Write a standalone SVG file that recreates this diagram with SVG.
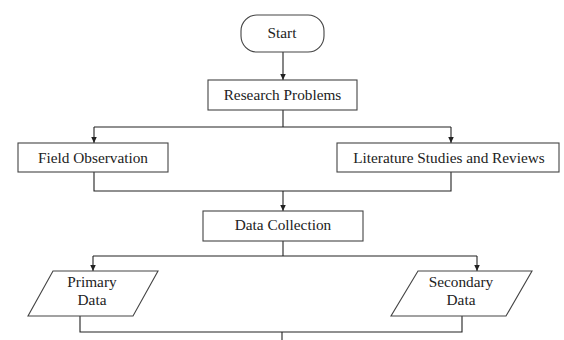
<svg xmlns="http://www.w3.org/2000/svg" width="564" height="340" viewBox="0 0 564 340">
<style>
.box{fill:#fff;stroke:#444;stroke-width:1.1}
.ln{fill:none;stroke:#222;stroke-width:1.1}
text{font-family:"Liberation Serif","Times New Roman",serif;font-size:15.3px;fill:#222;text-anchor:middle}
</style>
<defs>
<marker id="ah" markerUnits="userSpaceOnUse" markerWidth="7" markerHeight="7" refX="6.5" refY="3.5" orient="auto">
<path d="M0,0.5 L6.5,3.5 L0,6.5 z" fill="#222"/>
</marker>
</defs>
<rect width="564" height="340" fill="#fff"/>
<g id="connectors">
<path class="ln" d="M283,52 V80" marker-end="url(#ah)"/>
<path class="ln" d="M283,110 V127"/>
<path class="ln" d="M94,127 H451"/>
<path class="ln" d="M94,127 V143" marker-end="url(#ah)"/>
<path class="ln" d="M451,127 V143" marker-end="url(#ah)"/>
<path class="ln" d="M94,172 V191 H451 V172"/>
<path class="ln" d="M283,191 V211" marker-end="url(#ah)"/>
<path class="ln" d="M283,241 V256"/>
<path class="ln" d="M93,256 H477"/>
<path class="ln" d="M93,256 V271" marker-end="url(#ah)"/>
<path class="ln" d="M477,256 V271" marker-end="url(#ah)"/>
<path class="ln" d="M80,316 V332 H462 V316"/>
<path class="ln" d="M282,332 V340"/>
</g>
<g id="start" font-family="Liberation Serif, serif">
<rect class="box" x="241" y="15" width="83" height="37" rx="16"/>
<text x="282" y="38">Start</text>
</g>
<g id="research">
<rect class="box" x="208" y="80" width="149" height="30"/>
<text x="282.5" y="100">Research Problems</text>
</g>
<g id="field">
<rect class="box" x="18" y="143" width="150" height="29"/>
<text x="93" y="162.5">Field Observation</text>
</g>
<g id="literature">
<rect class="box" x="337" y="143" width="222" height="29"/>
<text x="449" y="162.5">Literature Studies and Reviews</text>
</g>
<g id="datacollection">
<rect class="box" x="203" y="211" width="160" height="30"/>
<text x="283" y="230">Data Collection</text>
</g>
<g id="primary">
<polygon class="box" points="53,271 158,271 133,316 28,316"/>
<text x="92" y="287">Primary</text>
<text x="92" y="305">Data</text>
</g>
<g id="secondary">
<polygon class="box" points="418,271 532,271 506,316 391,316"/>
<text x="461" y="287">Secondary</text>
<text x="461" y="305">Data</text>
</g>
</svg>
